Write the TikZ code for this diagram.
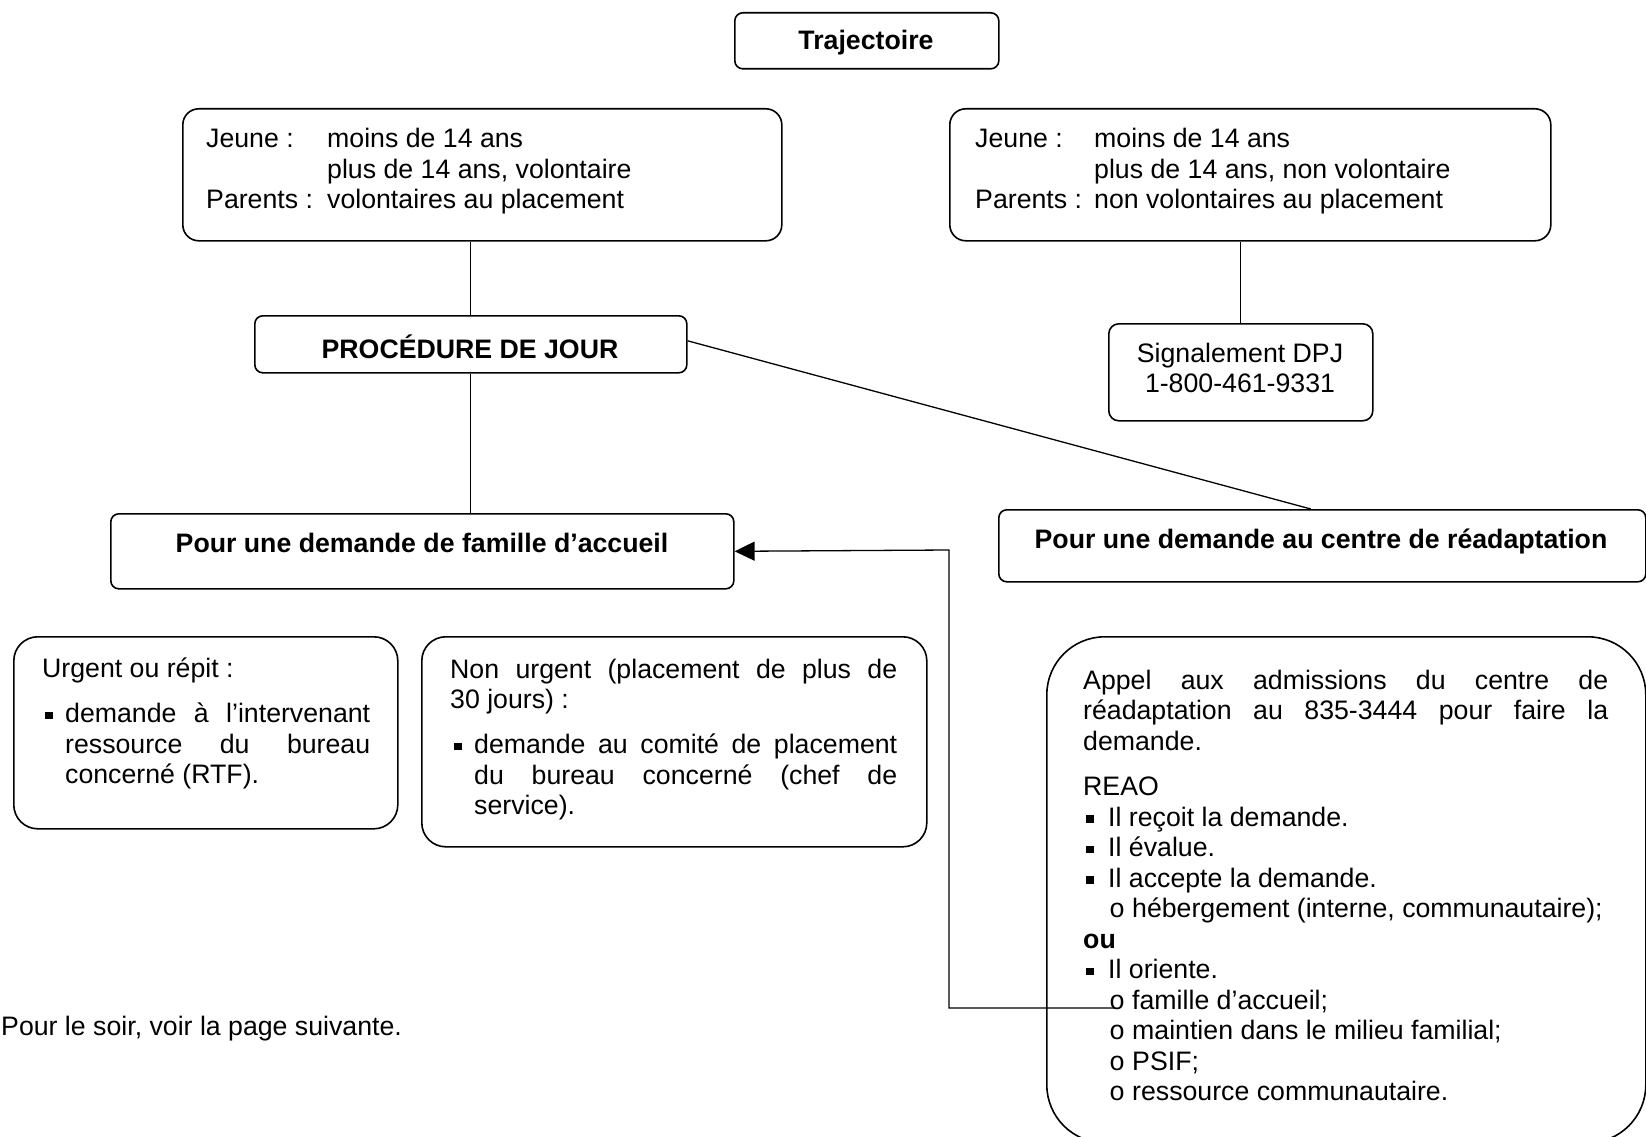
\documentclass[tikz,border=0pt]{standalone}
\usepackage{fontspec}
\setmainfont{Liberation Sans}
\setmonofont{Liberation Mono}
\usetikzlibrary{arrows.meta,calc}
\newcommand\mainsize{\fontsize{26.7}{30.5}\selectfont}
\newcommand\blk[1]{\vtop{\baselineskip=30.5pt\lineskiplimit=-50pt\lineskip=0pt #1}}
\newcommand\sqbul{\rule[3.5pt]{7.5pt}{7.5pt}}
\newcommand\obul{{\ttfamily o}}
\tikzset{
  box/.style={draw, line width=1.6pt, rounded corners=#1, inner sep=0pt, anchor=north west},
  box/.default=8pt,
  txt/.style={inner sep=0pt, anchor=base west},
  ctxt/.style={inner sep=0pt, anchor=base},
  link/.style={line width=1.3pt},
}
\begin{document}
\begin{tikzpicture}[x=1pt,y=-1pt,font=\mainsize]
\useasboundingbox (0,0) rectangle (1646,1137);
% boxes
\node[box=8pt, minimum width=264pt, minimum height=56pt] (traj) at (734,12) {};
\node[box=16pt, minimum width=599pt, minimum height=132pt] (ltop) at (182,108) {};
\node[box=16pt, minimum width=601pt, minimum height=132pt] (rtop) at (949,108) {};
\node[box=8pt, minimum width=432pt, minimum height=57pt] (proc) at (254,315) {};
\node[box=10pt, minimum width=264pt, minimum height=97pt] (sig) at (1108,323) {};
\node[box=8pt, minimum width=623pt, minimum height=75pt] (fam) at (110,513) {};
\node[box=8pt, minimum width=647pt, minimum height=72pt] (cen) at (998,509) {};
\node[box=24pt, minimum width=384pt, minimum height=192pt] (urg) at (13,636) {};
\node[box=24pt, minimum width=505pt, minimum height=210pt] (nurg) at (421,636) {};
\node[box=58pt, minimum width=599pt, minimum height=506pt] (big) at (1046,636) {};
% texts
\node[ctxt] (trajt) at (866,50) {\bfseries Trajectoire};
\node[txt] (ltopt) at (206,148) {\blk{%
  \hbox{\makebox[121pt][l]{Jeune :}moins de 14 ans}%
  \hbox{\hspace*{121pt}plus de 14 ans, volontaire}%
  \hbox{\makebox[121pt][l]{Parents :}volontaires au placement}}};
\node[txt] (rtopt) at (975,148) {\blk{%
  \hbox{\makebox[119pt][l]{Jeune :}moins de 14 ans}%
  \hbox{\hspace*{119pt}plus de 14 ans, non volontaire}%
  \hbox{\makebox[119pt][l]{Parents :}non volontaires au placement}}};
\node[ctxt] (proct) at (470,358) {\bfseries PROCÉDURE DE JOUR};
\node[ctxt] (sigt1) at (1240,362) {Signalement DPJ};
\node[ctxt] (sigt2) at (1240,392) {1-800-461-9331};
\node[ctxt] (famt) at (422,552) {\bfseries Pour une demande de famille d’accueil};
\node[ctxt] (cent) at (1321,548) {\bfseries Pour une demande au centre de réadaptation};
\node[txt] (urgt) at (42,677) {\blk{%
  \hbox{Urgent ou répit :}%
  \vskip15pt
  \hbox{\hspace*{3pt}\makebox[20pt][l]{\sqbul}\hbox to 305pt{demande\hfill à\hfill l’intervenant}}%
  \hbox{\hspace*{23pt}\hbox to 305pt{ressource\hfill du\hfill bureau}}%
  \hbox{\hspace*{23pt}concerné (RTF).}}};
\node[txt] (nurgt) at (450,678) {\blk{%
  \hbox to 447pt{Non\hfill urgent\hfill (placement\hfill de\hfill plus\hfill de}%
  \hbox{30 jours) :}%
  \vskip14.5pt
  \hbox{\hspace*{4pt}\makebox[20pt][l]{\sqbul}\hbox to 423pt{demande\hfill au\hfill comité\hfill de\hfill placement}}%
  \hbox{\hspace*{24pt}\hbox to 423pt{du\hfill bureau\hfill concerné\hfill (chef\hfill de}}%
  \hbox{\hspace*{24pt}service).}}};
\node[txt] (bigt) at (1083,689) {\blk{%
  \hbox to 525pt{Appel\hfill aux\hfill admissions\hfill du\hfill centre\hfill de}%
  \hbox to 525pt{réadaptation\hfill au\hfill 835-3444\hfill pour\hfill faire\hfill la}%
  \hbox{demande.}%
  \vskip15pt
  \hbox{REAO}%
  \hbox{\hspace*{3pt}\makebox[22pt][l]{\sqbul}Il reçoit la demande.}%
  \hbox{\hspace*{3pt}\makebox[22pt][l]{\sqbul}Il évalue.}%
  \hbox{\hspace*{3pt}\makebox[22pt][l]{\sqbul}Il accepte la demande.}%
  \hbox{\hspace*{26pt}\makebox[23pt][l]{\obul}hébergement (interne, communautaire);}%
  \hbox{\bfseries ou}%
  \hbox{\hspace*{3pt}\makebox[22pt][l]{\sqbul}Il oriente.}%
  \hbox{\hspace*{26pt}\makebox[23pt][l]{\obul}famille d’accueil;}%
  \hbox{\hspace*{26pt}\makebox[23pt][l]{\obul}maintien dans le milieu familial;}%
  \hbox{\hspace*{26pt}\makebox[23pt][l]{\obul}PSIF;}%
  \hbox{\hspace*{26pt}\makebox[23pt][l]{\obul}ressource communautaire.}}};
\node[txt] (soir) at (1,1035) {Pour le soir, voir la page suivante.};
% connectors
\draw[link] (proc.north) -- (proc.north |- ltop.south);
\draw[link] (proc.south) -- (proc.south |- fam.north);
\draw[link] (sig.north) -- (sig.north |- rtop.south);
\draw[link] ($(proc.east)+(0,-3.5)$) -- ($(cen.north)+(-11.5,0)$);
\draw[link] ($(cen.south)+(-11.5,0)$) -- ($(cen.south)+(-11.5,0)$ |- big.north);
\draw[link] ($(fam.south west)+(144,0)$) -- ($(fam.south west)+(144,0)$ |- urg.north);
\draw[link] ($(fam.south west)+(455,0)$) -- ($(fam.south west)+(455,0)$ |- nurg.north);
\coordinate (fa) at (1115,1008);
\coordinate (turn) at (949,550);
\draw[link, -{Triangle[length=20pt,width=19pt]}] (fa) -| (turn) -- (fam.east);
\end{tikzpicture}
\end{document}
